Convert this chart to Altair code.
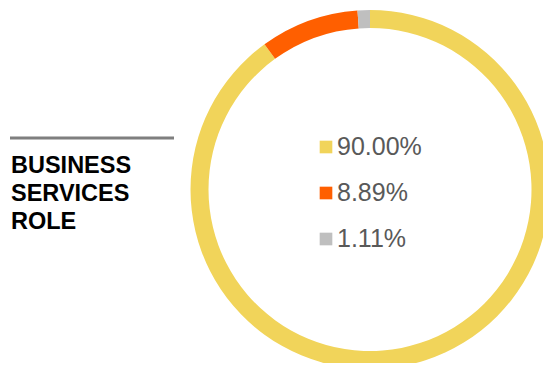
import altair as alt
import pandas as pd

labels = ["90.00%", "8.89%", "1.11%"]
values = [90.00, 8.89, 1.11]
colors = ["#F1D45A", "#FF5F00", "#BFBFBF"]
title_lines = "BUSINESS\nSERVICES\nROLE"

df = pd.DataFrame({"label": labels, "value": values, "idx": list(range(len(labels)))})
color_scale = alt.Scale(domain=labels, range=colors)

ring = alt.Chart(df).mark_arc(radius=179.5, radius2=161.5, stroke=None).encode(
    theta=alt.Theta("value:Q", stack=True),
    order=alt.Order("idx:Q"),
    color=alt.Color("label:N", scale=color_scale, legend=None),
    x=alt.value(362),
    y=alt.value(181.5),
)

row_y = alt.Y("idx:Q", scale=alt.Scale(domain=[0, 2], range=[139, 231]), axis=None)

squares = alt.Chart(df).mark_square(size=160, opacity=1).encode(
    x=alt.value(318),
    y=row_y,
    color=alt.Color("label:N", scale=color_scale, legend=None),
)

texts = alt.Chart(df).mark_text(
    align="left", baseline="middle", font="Liberation Sans", fontSize=25, color="#595959"
).encode(
    x=alt.value(329),
    y=row_y,
    text="label:N",
)

title = alt.Chart(pd.DataFrame({"t": [title_lines]})).mark_text(
    align="left", baseline="middle", font="Liberation Sans", fontSize=23.5,
    fontWeight="bold", color="#000000", lineBreak="\n", lineHeight=28,
).encode(x=alt.value(3), y=alt.value(158), text="t:N")

rule = alt.Chart(pd.DataFrame({"a": [0]})).mark_rule(color="#7F7F7F", strokeWidth=3).encode(
    x=alt.value(2), x2=alt.value(166), y=alt.value(130)
)

chart = alt.layer(ring, squares, texts, title, rule).resolve_scale(color="shared").properties(
    width=535, height=355, padding=0, autosize=alt.AutoSizeParams(type="none")
).configure_view(stroke=None)

chart.save("out.html", embed_options={"renderer": "svg", "actions": False})
